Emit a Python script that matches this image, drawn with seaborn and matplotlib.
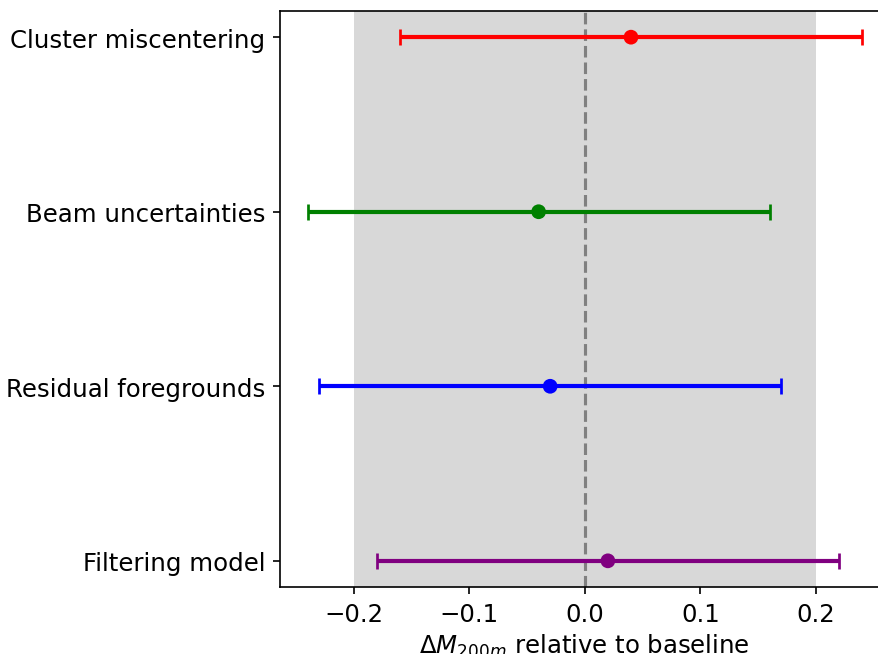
import numpy as np
import pandas as pd
import matplotlib
matplotlib.use("Agg")
import matplotlib.pyplot as plt
import seaborn as sns

categories = ["Cluster miscentering", "Beam uncertainties", "Residual foregrounds", "Filtering model"]
shifts = [0.04, -0.04, -0.03, 0.02]
errors = [0.20, 0.20, 0.20, 0.20]
colors = ["red", "green", "blue", "purple"]

plt.rcParams["font.family"] = ["DejaVu Sans"]
plt.rcParams["font.size"] = 11.7

fig = plt.figure(figsize=(878 / 150, 655 / 150), dpi=150)
ax = fig.add_axes([280 / 878, 67 / 655, 609.6 / 878, 576 / 655])

n = len(categories)
ypos = [n - 1 - i for i in range(n)]
df = pd.DataFrame({"cat": categories, "shift": shifts, "err": errors, "y": ypos, "color": colors})

ax.axvspan(-0.2, 0.2, color="gray", alpha=0.3, lw=0, zorder=0)
ax.axvline(0, color="gray", ls="--", lw=1.5, zorder=1)

for _, r in df.iterrows():
    ax.errorbar(r["shift"], r["y"], xerr=r["err"], fmt="none", ecolor=r["color"],
                elinewidth=2, capsize=4, capthick=1.3, zorder=2)

sns.scatterplot(data=df, x="shift", y="y", hue="cat", palette=colors, s=50,
                edgecolor="none", legend=False, ax=ax, zorder=3)

ax.set_yticks(ypos)
ax.set_yticklabels(categories)
ax.set_ylim(-0.15, n - 1 + 0.15)
ax.set_xlim(-0.264, 0.264)
ax.set_xticks([-0.2, -0.1, 0.0, 0.1, 0.2])
ax.set_xlabel(r"$\Delta M_{200m}$ relative to baseline", labelpad=3)
ax.set_ylabel("")

fig.savefig("out.png", dpi=150)
